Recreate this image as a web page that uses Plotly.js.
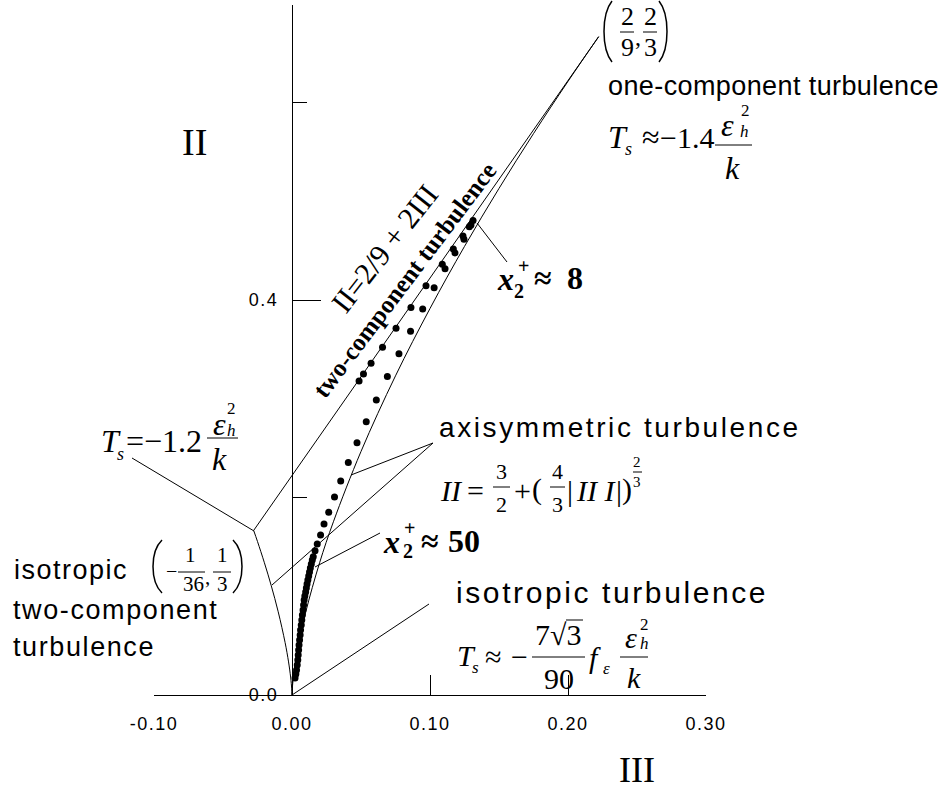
<!DOCTYPE html>
<html><head><meta charset="utf-8">
<script src="https://cdn.plot.ly/plotly-3.0.1.min.js"></script>
<style>html,body{margin:0;padding:0;background:#fff}</style>
</head><body><div id="chart" style="width:951px;height:792px"></div>
<script>
// ---------- data ----------
const xTickVals = [-0.1, 0, 0.1, 0.2, 0.3];
const xTickText = ['-0.10', '0.00', '0.10', '0.20', '0.30'];
const yTickVals = [0, 0.4];
const yTickText = ['0.0', '0.4'];
const yMinorTickVals = [0.2, 0.6];

// Lumley triangle boundaries (III, II)
const twoCompIII = [-0.027778, 0.22222];
const twoCompII  = [0.16667, 0.66667];
const axiRightIII = [0, 0.0002, 0.0005, 0.001, 0.0025, 0.005, 0.01, 0.02, 0.03, 0.05, 0.075, 0.1, 0.125, 0.15, 0.175, 0.2, 0.22222];
const axiRightII  = [0, 0.0062, 0.0114, 0.0182, 0.0335, 0.0531, 0.0843, 0.1339, 0.1754, 0.2466, 0.3232, 0.3914, 0.4543, 0.5130, 0.5685, 0.6214, 0.66667];
const axiLeftIII = [0, -0.0002, -0.0005, -0.001, -0.0025, -0.005, -0.01, -0.015, -0.02, -0.025, -0.027778];
const axiLeftII  = [0, 0.0062, 0.0114, 0.0182, 0.0335, 0.0531, 0.0843, 0.1105, 0.1339, 0.1554, 0.16667];

// measured anisotropy invariants: near-wall branch (along two-component limit)
const nearWallIII = [0.0486, 0.0518, 0.0573, 0.0656, 0.0754, 0.0862, 0.0971, 0.1089, 0.1169, 0.1239, 0.1285, 0.1312];
const nearWallII  = [0.3180, 0.3251, 0.3359, 0.3522, 0.3713, 0.3923, 0.4144, 0.4363, 0.4516, 0.4648, 0.4742, 0.4805];
// outer branch (from x2+ ~ 8 down towards isotropy)
const outerIII = [0.1297, 0.1246, 0.1181, 0.1109, 0.1030, 0.0947, 0.0859, 0.0775, 0.0691, 0.0611, 0.0538, 0.0471, 0.0408, 0.0353, 0.0308, 0.0266, 0.0232, 0.0207, 0.0183, 0.0167,
  0.0154, 0.0147, 0.0140, 0.0133, 0.0127, 0.0121, 0.0115, 0.0109, 0.0104, 0.0099, 0.0093, 0.0088, 0.0084, 0.0080, 0.0075, 0.0071, 0.0067, 0.0062, 0.0059, 0.0055, 0.0051, 0.0048, 0.0045, 0.0042, 0.0038, 0.0033, 0.0028, 0.0022];
const outerII  = [0.4759, 0.4615, 0.4476, 0.4317, 0.4125, 0.3909, 0.3684, 0.3456, 0.3225, 0.2987, 0.2768, 0.2555, 0.2354, 0.2167, 0.2005, 0.1850, 0.1732, 0.1620, 0.1529, 0.1461,
  0.1401, 0.1367, 0.1327, 0.1286, 0.1246, 0.1205, 0.1165, 0.1124, 0.1084, 0.1043, 0.1003, 0.0962, 0.0911, 0.0861, 0.0810, 0.0759, 0.0709, 0.0658, 0.0608, 0.0557, 0.0506, 0.0456, 0.0405, 0.0354, 0.0304, 0.0253, 0.0213, 0.0172];

// ---------- layout helpers ----------
const W = 951, H = 792;
const px = x => x / W, py = y => 1 - y / H;
const SERIF = 'Liberation Serif, Times New Roman, serif';
const SANS = 'Liberation Sans, Arial, sans-serif';
const K = '#000';

function T(x, y, text, size, o) {
  o = o || {};
  const a = {
    xref: 'paper', yref: 'paper', x: px(x), y: py(y), text: text, showarrow: false,
    xanchor: o.xanchor || 'center', yanchor: o.yanchor || 'middle', borderpad: 0,
    font: { family: o.family || SERIF, size: size, color: K }
  };
  if (o.textangle !== undefined) a.textangle = o.textangle;
  return a;
}
function S(text, ls) { return '<span style="letter-spacing:' + ls + 'px">' + text + '</span>'; }
function L(x0, y0, x1, y1, w) {
  return { type: 'line', xref: 'paper', yref: 'paper', x0: px(x0), y0: py(y0), x1: px(x1), y1: py(y1),
    line: { color: K, width: w || 1 } };
}
function paren(xl, xr, yt, yb, open) {
  const e = open ? xr : xl, b = open ? xl : xr;
  const c = e + (b - e) / 0.75, h = yb - yt;
  return { type: 'path', xref: 'paper', yref: 'paper',
    path: 'M ' + px(e) + ',' + py(yt) + ' C ' + px(c) + ',' + py(yt + h * 0.22) + ' ' + px(c) + ',' + py(yb - h * 0.22) + ' ' + px(e) + ',' + py(yb),
    line: { color: K, width: 1.5 } };
}

// ---------- traces ----------
const lineStyle = { color: K, width: 1 };
const traces = [
  { x: twoCompIII, y: twoCompII, mode: 'lines', line: lineStyle, hoverinfo: 'skip' },
  { x: axiRightIII, y: axiRightII, mode: 'lines', line: Object.assign({ shape: 'spline' }, lineStyle), hoverinfo: 'skip' },
  { x: axiLeftIII, y: axiLeftII, mode: 'lines', line: Object.assign({ shape: 'spline' }, lineStyle), hoverinfo: 'skip' },
  { x: nearWallIII, y: nearWallII, mode: 'markers', marker: { color: K, size: 7 }, cliponaxis: false },
  { x: outerIII, y: outerII, mode: 'markers', marker: { color: K, size: 7 }, cliponaxis: false }
];

// ---------- annotations ----------
const ann = [
  // axis titles
  T(194, 142, 'II', 38),
  T(637, 791, 'III', 36, { yanchor: 'bottom' }),
  // (2/9, 2/3)
  T(627, 16, '2', 26), T(627, 48, '9', 26), T(638, 37, ',', 24),
  T(650, 16, '2', 26), T(650, 48, '3', 26),
  T(607, 86, S('one-component turbulence', 0.4), 27, { family: SANS, xanchor: 'left' }),
  // Ts ≈ -1.4 eps^2/k
  T(618, 137, '<i>T</i>', 32), T(628, 149, '<i>s</i>', 18),
  T(651, 137, '≈', 32), T(687, 137, '−1.4', 30),
  T(727, 125, '<i>ε</i>', 32), T(745, 111, '2', 17), T(744, 132, '<i>h</i>', 17),
  T(732, 168, '<i>k</i>', 32),
  // rotated labels
  T(384, 248, 'II=2/9 + 2III', 30, { textangle: -52 }),
  T(404, 280, '<b>two-component turbulence</b>', 25, { textangle: -53 }),
  // x2+ ≈ 8
  T(505, 279, '<b><i>x</i></b>', 32), T(523, 266, '<b>+</b>', 20), T(519, 291, '<b>2</b>', 20),
  T(543, 278, '<b>≈</b>', 32), T(575, 278, '<b>8</b>', 32),
  // Ts = -1.2 eps^2/k
  T(111, 441, '<i>T</i>', 32), T(120, 454, '<i>s</i>', 18),
  T(134.5, 441, '=', 32), T(143, 441, '−1.2', 32, { xanchor: 'left' }),
  T(219, 424, '<i>ε</i>', 32), T(231, 408, '2', 17), T(231, 430, '<i>h</i>', 17),
  T(219, 459, '<i>k</i>', 32),
  // axisymmetric
  T(438, 427, S('axisymmetric turbulence', 2.6), 28, { family: SANS, xanchor: 'left' }),
  T(451, 490, '<i>II</i>', 30), T(475, 490, '=', 30),
  T(501, 472, '3', 22), T(501, 504, '2', 22),
  T(522, 490, '+', 30), T(537, 489, '(', 30),
  T(557, 472, '4', 22), T(557, 504, '3', 22),
  T(570, 490, '|', 30), T(596, 490, '<i>II I</i>', 30), T(619, 490, '|', 30), T(627, 489, ')', 30),
  T(637, 462, '2', 15), T(637, 482, '3', 15),
  // x2+ ≈ 50
  T(391, 542, '<b><i>x</i></b>', 32), T(409, 528, '<b>+</b>', 20), T(408, 551, '<b>2</b>', 20),
  T(430, 541, '<b>≈</b>', 32), T(463.5, 541, '<b>50</b>', 32),
  // isotropic two-component
  T(13, 570, S('isotropic', 1.5), 27, { family: SANS, xanchor: 'left' }),
  T(171, 571, '−', 20), T(190, 555, '1', 21), T(193.5, 584, '36', 21), T(207, 577, ',', 21),
  T(222, 555, '1', 21), T(222, 584, '3', 21),
  T(12, 610, S('two-component', 1.6), 27, { family: SANS, xanchor: 'left' }),
  T(12, 647, S('turbulence', 1.6), 27, { family: SANS, xanchor: 'left' }),
  // isotropic turbulence
  T(455, 592, S('isotropic turbulence', 2.6), 30, { family: SANS, xanchor: 'left' }),
  T(466, 655, '<i>T</i>', 30), T(475, 667, '<i>s</i>', 17),
  T(493, 656, '≈', 30), T(519, 656, '−', 30),
  T(558, 634, '7√3', 30), T(559, 678, '90', 30),
  T(595, 657, '<i>f</i>', 30), T(606, 668, '<i>ε</i>', 17),
  T(631, 637, '<i>ε</i>', 30), T(644, 624, '2', 17), T(644, 643, '<i>h</i>', 17),
  T(634, 677, '<i>k</i>', 30)
];

// ---------- shapes (fraction bars, brackets, leaders) ----------
const shapes = [
  L(620, 32, 634, 32), L(643, 32, 657, 32),
  paren(604, 612, 1, 62, true), paren(659, 667, 1, 62, false),
  L(715, 145, 752, 145),
  L(207, 438, 238, 438),
  L(493, 487, 510, 487), L(550, 487, 565, 487), L(633, 472, 642, 472),
  L(178, 572, 205, 572), L(213, 572, 231, 572),
  paren(153, 162, 540, 593, true), paren(233, 242, 540, 593, false),
  L(532, 657, 585, 657), L(566, 620, 583, 620), L(620, 657, 648, 657),
  // leader lines
  L(132, 458, 254, 531),
  L(433, 443, 351, 475), L(433, 443, 272, 585),
  L(380, 533, 315, 567),
  L(507, 262, 477, 223),
  L(292, 695, 429, 604)
];

const xTickLabels = xTickText.map(t => S(t, 1.5));
const yTickLabels = yTickText.map(t => S(t, 1.5));

const layout = {
  width: W, height: H,
  margin: { l: 0, r: 0, t: 0, b: 0, pad: 0 },
  paper_bgcolor: '#fff', plot_bgcolor: 'rgba(0,0,0,0)',
  showlegend: false,
  xaxis: {
    domain: [154 / W, 706 / W], range: [-0.1, 0.3], anchor: 'y',
    showgrid: false, zeroline: false, showline: true, linecolor: K, linewidth: 1,
    ticks: 'inside', ticklen: 20, tickwidth: 1, tickcolor: K,
    tickmode: 'array', tickvals: xTickVals, ticktext: xTickLabels,
    tickfont: { family: SANS, size: 18, color: K }, ticklabelstandoff: 12, automargin: false
  },
  yaxis: {
    domain: [(H - 695) / H, (H - 5) / H], range: [0, 690 / 987.5], anchor: 'free', position: 292 / W,
    showgrid: false, zeroline: false, showline: true, linecolor: K, linewidth: 1,
    ticks: 'inside', ticklen: 28, tickwidth: 1, tickcolor: K,
    tickmode: 'array', tickvals: yTickVals, ticktext: yTickLabels,
    minor: { tickmode: 'array', tickvals: yMinorTickVals, ticks: 'inside', ticklen: 14, tickwidth: 1, tickcolor: K, showgrid: false },
    tickfont: { family: SANS, size: 18, color: K }, ticklabelstandoff: 10, automargin: false
  },
  annotations: ann,
  shapes: shapes
};

Plotly.newPlot('chart', traces, layout, { staticPlot: true, displayModeBar: false });
</script></body></html>
